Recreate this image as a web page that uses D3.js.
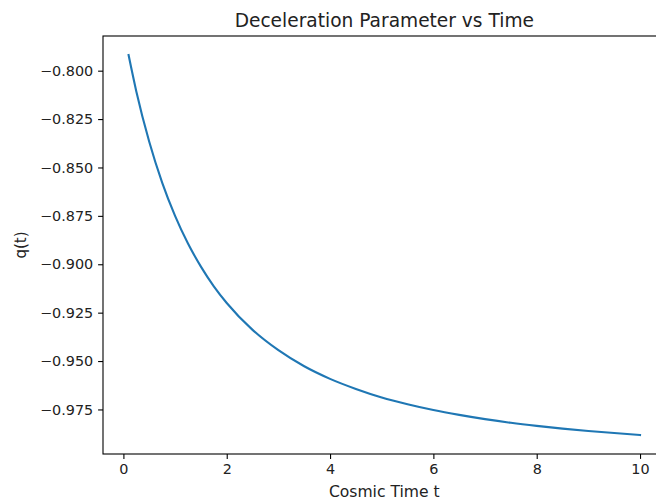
<!DOCTYPE html>
<html>
<head>
<meta charset="utf-8">
<script src="https://cdn.jsdelivr.net/npm/d3@7"></script>
<style>
  html, body { margin: 0; padding: 0; background: #fff; }
  svg { display: block; font-family: "DejaVu Sans", sans-serif; }
</style>
</head>
<body>
<svg id="chart" width="656" height="500"></svg>
<script>
// Data
const timeValues = [0.1, 0.25, 0.5, 0.75, 1.0, 1.25, 1.5, 1.75, 2.0, 2.5, 3.0, 3.5, 4.0, 4.5, 5.0, 5.5, 6.0, 6.5, 7.0, 7.5, 8.0, 8.5, 9.0, 9.5, 10.0];
const qValues = [-0.7919, -0.8107, -0.8367, -0.8578, -0.875, -0.8893, -0.9012, -0.9114, -0.92, -0.9339, -0.9444, -0.9527, -0.9592, -0.9644, -0.9688, -0.9723, -0.9753, -0.9778, -0.98, -0.9819, -0.9835, -0.9849, -0.9861, -0.9872, -0.9882];
const xTicks = [0, 2, 4, 6, 8, 10];
const yTicks = [-0.800, -0.825, -0.850, -0.875, -0.900, -0.925, -0.950, -0.975];
const titleText = "Deceleration Parameter vs Time";
const xLabel = "Cosmic Time t";
const yLabel = "q(t)";

(function () {
const svg = d3.select("#chart");
const mLeft = 103, mRight = 665.6, mTop = 36, mBottom = 454;

const pad = (ext) => { const m = (ext[1] - ext[0]) * 0.05; return [ext[0] - m, ext[1] + m]; };
const x = d3.scaleLinear().domain(pad(d3.extent(timeValues))).range([mLeft, mRight]);
const y = d3.scaleLinear().domain(pad(d3.extent(qValues))).range([mBottom, mTop]);

const data = timeValues.map((t, i) => ({ t, q: qValues[i] }));

const fmtMinus = (s) => s.replace("-", "\u2212");

// line
svg.append("path")
  .datum(data)
  .attr("fill", "none")
  .attr("stroke", "#1f77b4")
  .attr("stroke-width", 2.1)
  .attr("stroke-linecap", "square")
  .attr("d", d3.line().x(d => x(d.t)).y(d => y(d.q)).curve(d3.curveMonotoneX));

// axes
const xAxis = d3.axisBottom(x).tickValues(xTicks).tickSize(4.9).tickPadding(4.9).tickFormat(d3.format("d"));
const yAxis = d3.axisLeft(y).tickValues(yTicks).tickSize(4.9).tickPadding(4.9).tickFormat(d => fmtMinus(d3.format(".3f")(d)));

const gx = svg.append("g").attr("transform", `translate(0,${mBottom})`).call(xAxis);
const gy = svg.append("g").attr("transform", `translate(${mLeft},0)`).call(yAxis);
[gx, gy].forEach(g => {
  g.select(".domain").remove();
  g.selectAll(".tick line").attr("stroke", "#000").attr("stroke-width", 1.1);
  g.selectAll(".tick text").attr("fill", "#222").attr("font-size", "14.4px").attr("font-family", "DejaVu Sans, sans-serif");
});

// spines
svg.append("rect")
  .attr("x", mLeft).attr("y", mTop)
  .attr("width", mRight - mLeft).attr("height", mBottom - mTop)
  .attr("fill", "none").attr("stroke", "#000").attr("stroke-width", 1.1);

// title
svg.append("text")
  .attr("x", (mLeft + mRight) / 2).attr("y", 26.5)
  .attr("text-anchor", "middle")
  .attr("font-size", "18.6px")
  .attr("fill", "#222")
  .text(titleText);

// x label
svg.append("text")
  .attr("x", (mLeft + mRight) / 2).attr("y", 497)
  .attr("text-anchor", "middle")
  .attr("font-size", "15.6px")
  .attr("fill", "#222")
  .text(xLabel);

// y label
svg.append("text")
  .attr("transform", `translate(25.5,${(mTop + mBottom) / 2}) rotate(-90)`)
  .attr("text-anchor", "middle")
  .attr("font-size", "15px")
  .attr("fill", "#222")
  .text(yLabel);
})();
</script>
</body>
</html>
